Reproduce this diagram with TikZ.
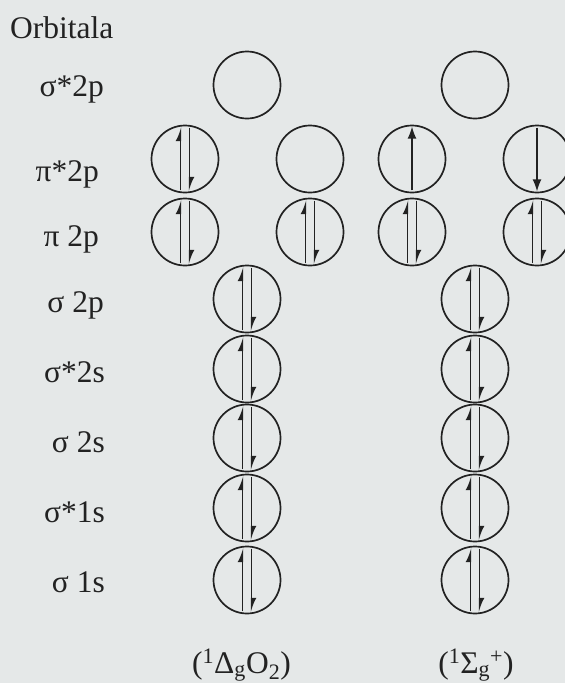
\documentclass[tikz,border=0pt]{standalone}
\usepackage{fontspec}
\setmainfont{Liberation Serif}
\usetikzlibrary{arrows.meta}
\definecolor{paper}{RGB}{229,232,232}
\definecolor{ink}{RGB}{34,34,34}
\tikzset{
  orb/.style  ={draw=ink, circle, minimum size=67pt, inner sep=0pt, line width=1.7pt},
  lvl/.style  ={font=\fontsize{31.5}{38}\selectfont, text=ink, inner sep=0pt, anchor=base east},
  term/.style ={font=\fontsize{31.5}{38}\selectfont, text=ink, inner sep=0pt, anchor=base},
  spin/.style ={draw=ink, line width=1.4pt, shorten <=3pt, shorten >=2pt},
  half/.style ={spin, -{Latex[left, length=12pt, width=10pt]}},
  full/.style ={spin, -{Latex[length=12pt, width=9pt]}}
}
\newcommand{\pairspin}[1]{%
  \draw[half] ([xshift=-4.5pt]#1.south) -- ([xshift=-4.5pt]#1.north);
  \draw[half] ([xshift=4.5pt]#1.north) -- ([xshift=4.5pt]#1.south);}

\begin{document}
\begin{tikzpicture}[x=1pt, y=-1pt]
  \fill[paper] (0,0) rectangle (565,683);
  \useasboundingbox (0,0) rectangle (565,683);
  % level names
  \node[lvl, anchor=base west] (head) at (10,38) {Orbitala};
  \node[lvl] (l1) at (104,96)  {σ*2p};
  \node[lvl] (l2) at (99,181)  {π*2p};
  \node[lvl] (l3) at (99,246)  {π 2p};
  \node[lvl] (l4) at (104,312) {σ 2p};
  \node[lvl] (l5) at (105,382) {σ*2s};
  \node[lvl] (l6) at (105,452) {σ 2s};
  \node[lvl] (l7) at (105,522) {σ*1s};
  \node[lvl] (l8) at (105,592) {σ 1s};
  % singlet delta
  \node[orb] (d1) at (247,85)  {};
  \node[orb] (d2a) at (185,159) {};
  \node[orb] (d2b) at (310,159) {};
  \node[orb] (d3a) at (185,232) {};
  \node[orb] (d3b) at (310,232) {};
  \node[orb] (d4) at (247,299) {};
  \node[orb] (d5) at (247,369) {};
  \node[orb] (d6) at (247,438) {};
  \node[orb] (d7) at (247,508) {};
  \node[orb] (d8) at (247,580) {};
  % singlet sigma
  \node[orb] (s1) at (475,85)  {};
  \node[orb] (s2a) at (412,159) {};
  \node[orb] (s2b) at (537,159) {};
  \node[orb] (s3a) at (412,232) {};
  \node[orb] (s3b) at (537,232) {};
  \node[orb] (s4) at (475,299) {};
  \node[orb] (s5) at (475,369) {};
  \node[orb] (s6) at (475,438) {};
  \node[orb] (s7) at (475,508) {};
  \node[orb] (s8) at (475,580) {};
  % electrons
  \foreach \o in {d2a,d3a,d3b,d4,d5,d6,d7,d8,s3a,s3b,s4,s5,s6,s7,s8}
    {\pairspin{\o}}
  \draw[full] (s2a.south) -- (s2a.north);
  \draw[full] (s2b.north) -- (s2b.south);
  % state names
  \node[term] (td) at (241.5,673) {(\textsuperscript{1}Δ\textsubscript{g}O\textsubscript{2})};
  \node[term] (ts) at (476,673) {(\textsuperscript{1}Σ\textsubscript{g}\textsuperscript{+})};
\end{tikzpicture}
\end{document}
